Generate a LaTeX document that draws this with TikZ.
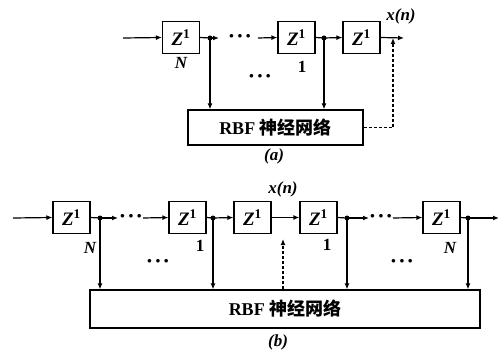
\documentclass[tikz,border=0pt]{standalone}
\usepackage{fontspec}
\setmainfont{Liberation Serif}
\newfontfamily\cjk{Noto Sans CJK SC}
\usetikzlibrary{positioning,calc,arrows.meta}
\tikzset{
	zbox/.style={draw,line width=1.2pt,minimum width=37pt,minimum height=32pt,inner sep=0pt,
		font=\bfseries\itshape\fontsize{19}{19}\selectfont},
	net/.style={draw,line width=1.2pt,inner sep=0pt,font=\bfseries\fontsize{18}{20}\selectfont},
	dot/.style={circle,fill=black,inner sep=0pt,minimum size=5pt},
	wire/.style={line width=1.2pt},
	flow/.style={line width=1.2pt,-{Latex[length=6pt,width=5pt]}},
	fb/.style={flow,dash pattern=on 3pt off 2pt},
	lbl/.style={font=\bfseries\itshape\fontsize{17}{17}\selectfont},
	num/.style={font=\bfseries\fontsize{17}{17}\selectfont},
	gap/.style={inner sep=0pt,font=\bfseries\fontsize{22}{22}\selectfont},
}
\newcommand{\zdelay}{Z\textsuperscript{\upshape 1}}
\newcommand{\rbftext}{RBF {\cjk\bfseries 神经网络}}
\newcommand{\gapdots}{·\kern1pt·\kern1pt·}

\begin{document}
\begin{tikzpicture}[x=1pt,y=-1pt]
	\useasboundingbox (0,0) rectangle (504,353);
	% (a)
	\coordinate (inA) at (123,38);
	\node[zbox] (aN) at (181,37.5) {\zdelay};
	\node[zbox] (a1) at (296.5,37.5) {\zdelay};
	\node[zbox] (a0) at (361.5,37.5) {\zdelay};
	\coordinate (da) at (210,38);
	\coordinate (db) at (324,38);
	\coordinate (daE) at (219,38);
	\coordinate (dotsA) at (258,38);
	\coordinate (outA) at (404,38);
	\coordinate (fbA) at (393,38);
	\node[net,minimum width=175pt,minimum height=35pt] (rbfA) at (275.5,127.5) {\rbftext};
	\draw[flow] (inA) -- (aN.west);
	\draw[wire] (aN.east) -- (da);
	\draw[flow] (da) -- (daE);
	\node[gap] at (240,39) {\gapdots};
	\draw[flow] (dotsA) -- (a1.west);
	\draw[wire] (a1.east) -- (db);
	\draw[flow] (db) -- (a0.west);
	\draw[flow] (a0.east) -- (outA);
	\draw[flow] (da) -- (da |- rbfA.north);
	\draw[flow] (db) -- (db |- rbfA.north);
	\draw[fb] (rbfA.east) -| (fbA);
	\foreach \p in {da,db} \node[dot] at (\p) {};
	\node[lbl] at (401,16) {x(n)};
	\node[lbl] at (181,63) {N};
	\node[num] at (302,67) {1};
	\node[gap] at (260,79) {\gapdots};
	\node[lbl] at (274,156) {(a)};
	% (b)
	\coordinate (inB) at (13,218);
	\node[zbox] (bN) at (71.5,217.5) {\zdelay};
	\node[zbox] (b1) at (187.5,217.5) {\zdelay};
	\node[zbox] (b0) at (252.5,217.5) {\zdelay};
	\node[zbox] (c1) at (318.5,217.5) {\zdelay};
	\node[zbox] (cN) at (441.5,217.5) {\zdelay};
	\coordinate (ea) at (100,218);
	\coordinate (eb) at (213,218);
	\coordinate (ec) at (347,218);
	\coordinate (ed) at (468,218);
	\coordinate (eaE) at (118,218);
	\coordinate (dotsB) at (143,218);
	\coordinate (ecE) at (369,218);
	\coordinate (dotsC) at (393,218);
	\coordinate (outB) at (499,218);
	\coordinate (fbB) at (283,239);
	\node[net,minimum width=390pt,minimum height=38pt] (rbfB) at (285,309) {\rbftext};
	\draw[flow] (inB) -- (bN.west);
	\draw[wire] (bN.east) -- (ea);
	\draw[flow] (ea) -- (eaE);
	\node[gap] at (131,219) {\gapdots};
	\draw[flow] (dotsB) -- (b1.west);
	\draw[wire] (b1.east) -- (eb);
	\draw[flow] (eb) -- (b0.west);
	\draw[flow] (b0.east) -- (c1.west);
	\draw[wire] (c1.east) -- (ec);
	\draw[flow] (ec) -- (ecE);
	\node[gap] at (381,219) {\gapdots};
	\draw[flow] (dotsC) -- (cN.west);
	\draw[wire] (cN.east) -- (ed);
	\draw[flow] (ed) -- (outB);
	\foreach \p in {ea,eb,ec,ed} \draw[flow] (\p) -- (\p |- rbfB.north);
	\draw[fb] (fbB |- rbfB.north) -- (fbB);
	\foreach \p in {ea,eb,ec,ed} \node[dot] at (\p) {};
	\node[lbl] at (283,189) {x(n)};
	\node[lbl] at (90,248) {N};
	\node[num] at (200,246) {1};
	\node[gap] at (158,264) {\gapdots};
	\node[num] at (327,245) {1};
	\node[lbl] at (450,248) {N};
	\node[gap] at (402,264) {\gapdots};
	\node[lbl] at (278,342) {(b)};
\end{tikzpicture}
\end{document}
